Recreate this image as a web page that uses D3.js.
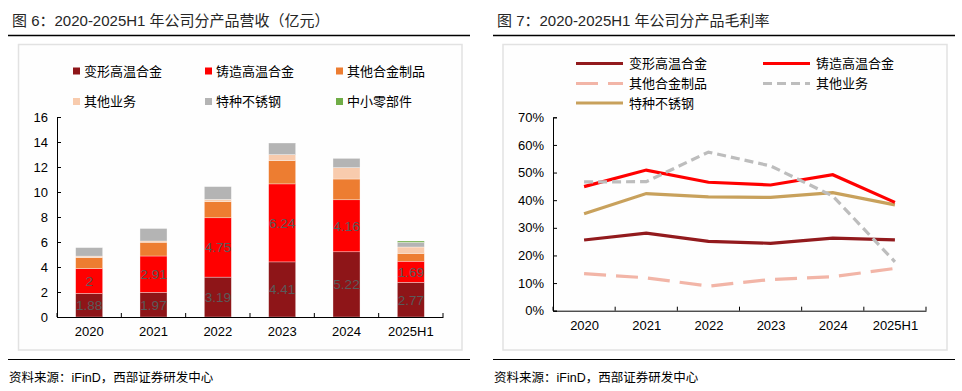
<!DOCTYPE html>
<html><head><meta charset="utf-8">
<script src="https://cdn.jsdelivr.net/npm/d3@7"></script>
<style>
html,body{margin:0;padding:0;background:#fff;}
svg{display:block;}
text{font-family:"Liberation Sans","Noto Sans CJK SC",Arial,sans-serif;font-weight:400;}
</style></head>
<body>
<svg id="c" width="962" height="391"></svg>
<script>
// ---- Data: left chart (revenue, 亿元) ----
const years = ["2020","2021","2022","2023","2024","2025H1"];
const barSeries = ["变形高温合金","铸造高温合金","其他合金制品","其他业务","特种不锈钢","中小零部件"];
const wrought   = [1.88, 1.97, 3.19, 4.41, 5.22, 2.77];
const cast      = [2.00, 2.91, 4.75, 6.24, 4.16, 1.69];
const otherAlloy= [0.87, 1.10, 1.29, 1.86, 1.66, 0.63];
const otherBiz  = [0.12, 0.10, 0.18, 0.48, 0.91, 0.51];
const stainless = [0.68, 1.00, 1.02, 0.93, 0.74, 0.37];
const parts     = [0,    0,    0,    0,    0,    0.11];
const barColors = ["#8E1518","#FF0000","#ED7D31","#F8CBAD","#B4B4B4","#70AD47"];
const yTicksL = [0,2,4,6,8,10,12,14,16];

// ---- Data: right chart (gross margin) ----
const lineSeries = ["变形高温合金","铸造高温合金","其他合金制品","其他业务","特种不锈钢"];
const mWrought   = [0.256, 0.281, 0.251, 0.244, 0.263, 0.256];
const mCast      = [0.449, 0.509, 0.465, 0.455, 0.492, 0.392];
const mOtherAlloy= [0.134, 0.119, 0.089, 0.113, 0.123, 0.153];
const mOtherBiz  = [0.466, 0.467, 0.574, 0.524, 0.415, 0.177];
const mStainless = [0.351, 0.424, 0.412, 0.410, 0.427, 0.383];
const lineColors = ["#921A1D","#FF0000","#F2B5A7","#BDBDBD","#C8A15C"];
const lineDash   = [null, null, "22,10", "9,5", null];
const yTicksR = [0,0.1,0.2,0.3,0.4,0.5,0.6,0.7];

const svg = d3.select("#c");

// ---- Frame: titles, rules, panels, sources ----
function frame(x0, x1, px0, px1, title){
  svg.append("text").attr("x", x0+4).attr("y", 26).attr("font-size", 15).attr("font-weight",400).attr("fill","#262626").text(title);
  svg.append("line").attr("x1",x0).attr("x2",x1).attr("y1",35.5).attr("y2",35.5).attr("stroke","#000").attr("stroke-width",1.5);
  svg.append("rect").attr("x",px0).attr("y",44.5).attr("width",px1-px0).attr("height",305.5)
     .attr("fill","#FEFEFE").attr("stroke","#E2E2E2").attr("stroke-width",1.5);
  svg.append("line").attr("x1",x0).attr("x2",x1).attr("y1",359.5).attr("y2",359.5).attr("stroke","#000").attr("stroke-width",1.2);
  svg.append("text").attr("x", x0+1).attr("y", 382).attr("font-size", 12.5).attr("fill","#000").text("资料来源：iFinD，西部证券研发中心");
}
frame(8, 470, 18.5, 462, "图 6：2020-2025H1 年公司分产品营收（亿元）");
frame(493, 955, 503, 947, "图 7：2020-2025H1 年公司分产品毛利率");

// ---- Left chart ----
const L = {x0:57, x1:443, y0:317, y1:117};
const xL = d3.scaleBand().domain(years).range([L.x0, L.x1]).paddingInner(0.58).paddingOuter(0.29);
const yL = d3.scaleLinear().domain([0,16]).range([L.y0, L.y1]);
const rows = years.map((y,i)=>({year:y, "变形高温合金":wrought[i], "铸造高温合金":cast[i], "其他合金制品":otherAlloy[i],
  "其他业务":otherBiz[i], "特种不锈钢":stainless[i], "中小零部件":parts[i]}));
const stack = d3.stack().keys(barSeries)(rows);
const gL = svg.append("g");
stack.forEach((s,si)=>{
  gL.append("g").selectAll("rect").data(s.filter(d=>d[1]-d[0]>0)).join("rect")
    .attr("x", d=>xL(d.data.year)).attr("width", xL.bandwidth())
    .attr("y", d=>yL(d[1])).attr("height", d=>yL(d[0])-yL(d[1]))
    .attr("fill", barColors[si]).attr("stroke","rgba(255,255,255,0.55)").attr("stroke-width",0.6);
});
// value labels on first two series
[0,1].forEach(si=>{
  gL.append("g").selectAll("text").data(stack[si]).join("text")
    .attr("x", d=>xL(d.data.year)+xL.bandwidth()/2).attr("y", d=>yL((d[0]+d[1])/2)+5)
    .attr("text-anchor","middle").attr("font-size",13.5).attr("fill","#5A5A5A")
    .text(d=>d3.format("~g")(d[1]-d[0]));
});
// axes
const axL = d3.axisLeft(yL).tickValues(yTicksL).tickSize(-4).tickPadding(9);
const gyL = svg.append("g").attr("transform",`translate(${L.x0},0)`).call(axL);
gyL.select(".domain").attr("stroke","#000");
gyL.selectAll(".tick line").attr("stroke","#000");
gyL.selectAll("text").attr("font-size",13).attr("fill","#000").attr("font-family","Liberation Sans, Arial");
const gxL = svg.append("g").attr("transform",`translate(0,${L.y0})`).call(d3.axisBottom(xL).tickSize(0).tickPadding(10).tickSizeOuter(0));
gxL.select(".domain").attr("stroke","#000");
gxL.selectAll("text").attr("font-size",13).attr("fill","#000").attr("font-family","Liberation Sans, Arial");
d3.range(years.length+1).forEach(i=>{
  const xx = L.x0 + i*xL.step();
  svg.append("line").attr("x1",xx).attr("x2",xx).attr("y1",L.y0).attr("y2",L.y0-4).attr("stroke","#000");
});
// legend left
const legPos = [[73,71],[205,71],[336,71],[73,101.5],[205,101.5],[336,101.5]];
barSeries.forEach((s,i)=>{
  const [lx,ly] = legPos[i];
  svg.append("rect").attr("x",lx).attr("y",ly-3.5).attr("width",7).attr("height",7).attr("fill",barColors[i]);
  svg.append("text").attr("x",lx+11).attr("y",ly+4.5).attr("font-size",13).attr("fill","#000")
     .attr("font-family","Noto Sans CJK SC").text(s);
});

// ---- Right chart ----
const R = {x0:553, x1:926, y0:310.7, y1:117.3};
const xR = d3.scalePoint().domain(years).range([R.x0, R.x1]).padding(0.5);
const yR = d3.scaleLinear().domain([0,0.7]).range([R.y0, R.y1]);
const gyR = svg.append("g").attr("transform",`translate(${R.x0},0)`)
  .call(d3.axisLeft(yR).tickValues(yTicksR).tickFormat(d3.format(".0%")).tickSize(-4).tickPadding(9));
gyR.select(".domain").attr("stroke","#000");
gyR.selectAll(".tick line").attr("stroke","#000");
gyR.selectAll("text").attr("font-size",13).attr("fill","#000").attr("font-family","Liberation Sans, Arial");
const gxR = svg.append("g").attr("transform",`translate(0,${R.y0})`).call(d3.axisBottom(xR).tickSize(0).tickPadding(10).tickSizeOuter(0));
gxR.select(".domain").attr("stroke","#000");
gxR.selectAll("text").attr("font-size",13).attr("fill","#000").attr("font-family","Liberation Sans, Arial");
d3.range(years.length+1).forEach(i=>{
  const xx = R.x0 + i*xR.step();
  svg.append("line").attr("x1",xx).attr("x2",xx).attr("y1",R.y0).attr("y2",R.y0-4).attr("stroke","#000");
});
const marginData = [mWrought, mCast, mOtherAlloy, mOtherBiz, mStainless];
const drawOrder = [2,0,4,1,3];
const line = d3.line().x((d,i)=>xR(years[i])).y(d=>yR(d));
drawOrder.forEach(si=>{
  svg.append("path").attr("d", line(marginData[si])).attr("fill","none")
    .attr("stroke", lineColors[si]).attr("stroke-width",3.2)
    .attr("stroke-dasharray", lineDash[si]);
});
// legend right
const legR = [[576,63.5],[763,63.5],[576,83.5],[763,83.5],[576,103]];
lineSeries.forEach((s,i)=>{
  const [lx,ly] = legR[i];
  svg.append("line").attr("x1",lx).attr("x2",lx+47).attr("y1",ly).attr("y2",ly)
    .attr("stroke",lineColors[i]).attr("stroke-width",3.2).attr("stroke-dasharray", lineDash[i]);
  svg.append("text").attr("x",lx+53).attr("y",ly+4.5).attr("font-size",13).attr("fill","#000")
    .attr("font-family","Noto Sans CJK SC").text(s);
});
</script>
</body></html>
